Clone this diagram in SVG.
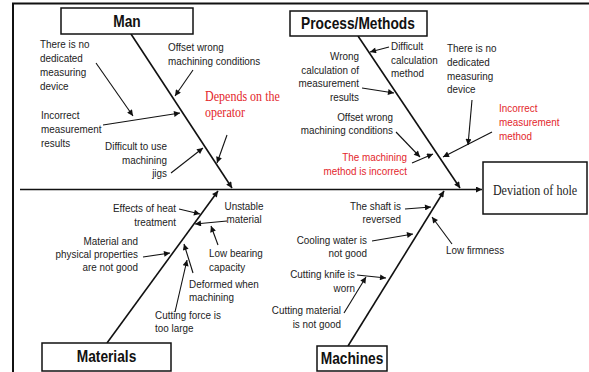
<svg xmlns="http://www.w3.org/2000/svg" width="589" height="372" viewBox="0 0 589 372">
  <style>
    .frame { fill: none; stroke: #111; stroke-width: 2; }
    .box { fill: #fff; stroke: #111; stroke-width: 1.5; }
    .head { font-family: "Liberation Sans", Arial, sans-serif; font-weight: bold; font-size: 16px; fill: #111; text-anchor: middle; }
    .effect { font-family: "Liberation Serif", "Times New Roman", serif; font-size: 14px; fill: #222; text-anchor: middle; }
    .lbl { font-family: "Liberation Sans", Arial, sans-serif; font-size: 11.5px; fill: #222; }
    .red { fill: #e3262b; }
    .serif { font-family: "Liberation Serif", "Times New Roman", serif; font-size: 14px; }
    .end { text-anchor: end; }
    .mid { text-anchor: middle; }
    .spine { fill: none; stroke: #111; stroke-width: 1.6; marker-end: url(#tip); }
    .cause { fill: none; stroke: #111; stroke-width: 1.1; marker-end: url(#tip); }
  </style>
  <defs>
    <marker id="tip" viewBox="0 0 10 10" refX="10" refY="5" markerUnits="userSpaceOnUse" markerWidth="8" markerHeight="6" orient="auto">
      <path d="M0,0 L10,5 L0,10 z" fill="#111"/>
    </marker>
  </defs>

  <rect width="589" height="372" fill="#fff"/>
  <path class="frame" d="M13,372 V3.5 H589"/>

  <!-- connectors: backbone, category spines and cause arrows -->
  <g id="connectors">
    <line class="spine" x1="20" y1="189.5" x2="482" y2="189.5"/>
    <line class="spine" x1="131" y1="34" x2="232" y2="188"/>
    <line class="spine" x1="358" y1="36" x2="460" y2="188"/>
    <line class="spine" x1="107" y1="343" x2="218" y2="191"/>
    <line class="spine" x1="348" y1="346" x2="444" y2="191"/>

    <!-- Man -->
    <line class="cause" x1="96" y1="63" x2="133" y2="116"/>
    <line class="cause" x1="103" y1="125" x2="180" y2="113"/>
    <line class="cause" x1="193" y1="70" x2="175" y2="96"/>
    <line class="cause" x1="171" y1="173" x2="203" y2="148"/>
    <line class="cause" x1="227" y1="135" x2="217" y2="163"/>

    <!-- Process/Methods -->
    <line class="cause" x1="389" y1="47" x2="370" y2="52"/>
    <line class="cause" x1="362" y1="88" x2="394" y2="93"/>
    <line class="cause" x1="472" y1="100" x2="468" y2="145"/>
    <line class="cause" x1="492" y1="132" x2="443" y2="157"/>
    <line class="cause" x1="396" y1="132" x2="420" y2="157"/>
    <line class="cause" x1="412" y1="163" x2="433" y2="154"/>

    <!-- Materials -->
    <line class="cause" x1="179" y1="209" x2="200" y2="214"/>
    <line class="cause" x1="227" y1="221" x2="195" y2="224"/>
    <line class="cause" x1="218" y1="245" x2="211" y2="226"/>
    <line class="cause" x1="143" y1="257" x2="170" y2="253"/>
    <line class="cause" x1="193" y1="273" x2="184" y2="244"/>
    <line class="cause" x1="175" y1="312" x2="187" y2="260"/>

    <!-- Machines -->
    <line class="cause" x1="405" y1="209" x2="431" y2="207"/>
    <line class="cause" x1="452" y1="244" x2="432" y2="217"/>
    <line class="cause" x1="372" y1="241" x2="413" y2="234"/>
    <line class="cause" x1="357" y1="275" x2="386" y2="278"/>
    <line class="cause" x1="344" y1="313" x2="366" y2="277"/>
  </g>

  <!-- category heads -->
  <g id="man">
    <rect class="box" x="61" y="8" width="132" height="26"/>
    <text class="head" transform="translate(127 0) scale(.86 1)" x="0" y="27">Man</text>
  </g>
  <g id="process-methods">
    <rect class="box" x="290" y="11" width="137" height="25"/>
    <text class="head" transform="translate(358 0) scale(.86 1)" x="0" y="29">Process/Methods</text>
  </g>
  <g id="materials">
    <rect class="box" x="42" y="343" width="129" height="28"/>
    <text class="head" transform="translate(106.5 0) scale(.86 1)" x="0" y="362">Materials</text>
  </g>
  <g id="machines">
    <rect class="box" x="317" y="346" width="70" height="25"/>
    <text class="head" transform="translate(352 0) scale(.86 1)" x="0" y="364">Machines</text>
  </g>
  <g id="deviation-of-hole">
    <rect class="box" x="483" y="162" width="104" height="52"/>
    <text class="effect" transform="translate(535 0) scale(.86 1)" x="0" y="195">Deviation of hole</text>
  </g>

  <!-- cause labels -->
  <g id="man-causes">
    <text class="lbl" transform="translate(40 0) scale(.86 1)"><tspan x="0" y="48">There is no</tspan><tspan x="0" y="62">dedicated</tspan><tspan x="0" y="76">measuring</tspan><tspan x="0" y="90">device</tspan></text>
    <text class="lbl" transform="translate(41 0) scale(.86 1)"><tspan x="0" y="119">Incorrect</tspan><tspan x="0" y="133">measurement</tspan><tspan x="0" y="147">results</tspan></text>
    <text class="lbl" transform="translate(168 0) scale(.86 1)"><tspan x="0" y="51">Offset wrong</tspan><tspan x="0" y="65">machining conditions</tspan></text>
    <text class="lbl end" transform="translate(167 0) scale(.86 1)"><tspan x="0" y="150">Difficult to use</tspan><tspan x="0" y="164">machining</tspan><tspan x="0" y="177">jigs</tspan></text>
    <text class="lbl red serif" transform="translate(205 0) scale(.86 1)"><tspan x="0" y="101.5">Depends on the</tspan><tspan x="0" y="117.5">operator</tspan></text>
  </g>
  <g id="process-causes">
    <text class="lbl" transform="translate(391 0) scale(.86 1)"><tspan x="0" y="50">Difficult</tspan><tspan x="0" y="64">calculation</tspan><tspan x="0" y="77">method</tspan></text>
    <text class="lbl end" transform="translate(359 0) scale(.86 1)"><tspan x="0" y="60">Wrong</tspan><tspan x="0" y="74">calculation of</tspan><tspan x="0" y="87">measurement</tspan><tspan x="0" y="101">results</tspan></text>
    <text class="lbl" transform="translate(447 0) scale(.86 1)"><tspan x="0" y="52">There is no</tspan><tspan x="0" y="66">dedicated</tspan><tspan x="0" y="80">measuring</tspan><tspan x="0" y="93">device</tspan></text>
    <text class="lbl red" transform="translate(499 0) scale(.86 1)"><tspan x="0" y="112">Incorrect</tspan><tspan x="0" y="126">measurement</tspan><tspan x="0" y="140">method</tspan></text>
    <text class="lbl end" transform="translate(393 0) scale(.86 1)"><tspan x="0" y="121">Offset wrong</tspan><tspan x="0" y="134">machining conditions</tspan></text>
    <text class="lbl red end" transform="translate(407 0) scale(.86 1)"><tspan x="0" y="161">The machining</tspan><tspan x="0" y="175">method is incorrect</tspan></text>
  </g>
  <g id="materials-causes">
    <text class="lbl end" transform="translate(176 0) scale(.86 1)"><tspan x="0" y="212">Effects of heat</tspan><tspan x="0" y="226">treatment</tspan></text>
    <text class="lbl mid" transform="translate(244 0) scale(.86 1)"><tspan x="0" y="210">Unstable</tspan><tspan x="0" y="223">material</tspan></text>
    <text class="lbl" transform="translate(209 0) scale(.86 1)"><tspan x="0" y="257">Low bearing</tspan><tspan x="0" y="271">capacity</tspan></text>
    <text class="lbl end" transform="translate(138 0) scale(.86 1)"><tspan x="0" y="245">Material and</tspan><tspan x="0" y="258">physical properties</tspan><tspan x="0" y="271">are not good</tspan></text>
    <text class="lbl" transform="translate(189 0) scale(.86 1)"><tspan x="0" y="288">Deformed when</tspan><tspan x="0" y="301">machining</tspan></text>
    <text class="lbl" transform="translate(155 0) scale(.86 1)"><tspan x="0" y="319">Cutting force is</tspan><tspan x="0" y="332">too large</tspan></text>
  </g>
  <g id="machines-causes">
    <text class="lbl end" transform="translate(401 0) scale(.86 1)"><tspan x="0" y="210">The shaft is</tspan><tspan x="0" y="223">reversed</tspan></text>
    <text class="lbl" transform="translate(446 0) scale(.86 1)"><tspan x="0" y="254">Low firmness</tspan></text>
    <text class="lbl end" transform="translate(367 0) scale(.86 1)"><tspan x="0" y="244">Cooling water is</tspan><tspan x="0" y="257">not good</tspan></text>
    <text class="lbl end" transform="translate(355 0) scale(.86 1)"><tspan x="0" y="278">Cutting knife is</tspan><tspan x="0" y="292">worn</tspan></text>
    <text class="lbl end" transform="translate(341 0) scale(.86 1)"><tspan x="0" y="314">Cutting material</tspan><tspan x="0" y="328">is not good</tspan></text>
  </g>
</svg>
